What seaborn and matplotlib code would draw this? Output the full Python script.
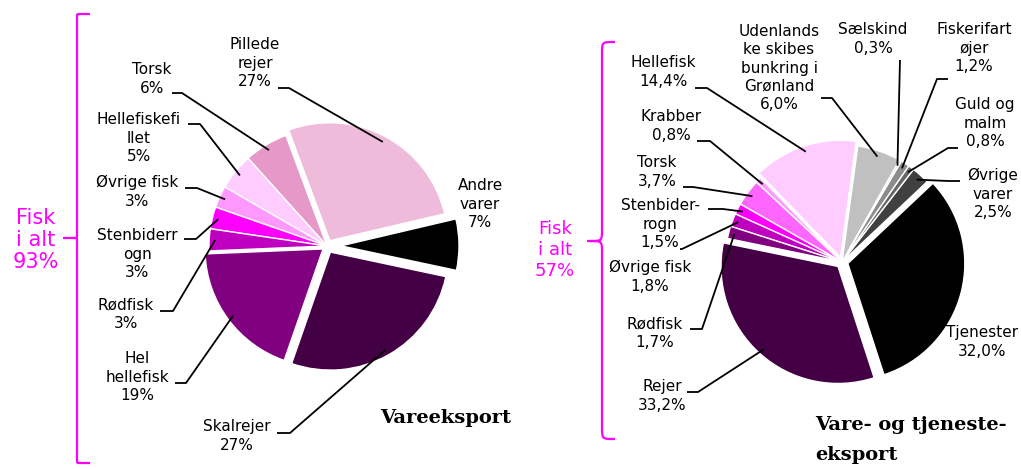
import matplotlib
matplotlib.use("Agg")
import matplotlib.pyplot as plt
from matplotlib.path import Path
from matplotlib.patches import PathPatch
import numpy as np
import seaborn as sns

# ---- data: Vareeksport (counter-clockwise, starting at "Andre varer")
vare_names = ["Andre\nvarer", "Pillede\nrejer", "Torsk", "Hellefiskefi\nllet", "Øvrige fisk",
              "Stenbiderr\nogn", "Rødfisk", "Hel\nhellefisk", "Skalrejer"]
vare_values = [7, 27, 6, 5, 3, 3, 3, 19, 27]
vare_colors = ["#000000", "#EEBBDB", "#E699C8", "#FFCCFF", "#FF99FF",
               "#FF00FF", "#C000C0", "#800080", "#440044"]

# ---- data: Vare- og tjenesteeksport (counter-clockwise, starting at "Tjenester")
total_names = ["Tjenester", "Øvrige\nvarer", "Guld og\nmalm", "Fiskerifart\nøjer", "Sælskind",
               "Udenlands\nke skibes\nbunkring i\nGrønland", "Hellefisk", "Krabber", "Torsk",
               "Stenbider-\nrogn", "Øvrige fisk", "Rødfisk", "Rejer"]
total_values = [32.0, 2.5, 0.8, 1.2, 0.3, 6.0, 14.4, 0.8, 3.7, 1.5, 1.8, 1.7, 33.2]
total_colors = ["#000000", "#404040", "#666666", "#8C8C8C", "#D9D9D9", "#C0C0C0", "#FFCCFF",
                "#FF99FF", "#FF66FF", "#FF00FF", "#C000C0", "#800080", "#440044"]

fisk_vare = 93
fisk_total = 57

# ---- layout (pixel coordinates, y from top); explode is in pixels here
W, H = 1021, 469
vare_explode = [14, 6, 0, 0, 0, 0, 0, 5, 7]
vare_text_pos = [(480, 204), (255, 63), (152, 79), (139, 138), (137, 192),
                 (137, 254), (126, 314), (137, 377), (237, 436)]
vare_leaders = [None, (278, 289, 88), (172, 182, 93), (188, 200, 124), (185, 197, 188),
                (184, 196, 239), (160, 173, 311), (175, 186, 383), (277, 290, 433)]

total_explode = [6, 0, 0, 0, 0, 0, 5, 0, 0, 0, 0, 0, 6]
total_text_pos = [(982, 342), (993, 194), (985, 123), (974, 48), (873, 39), (779, 68),
                  (663, 72), (671, 126), (657, 172), (660, 224), (650, 277), (655, 333), (662, 396)]
total_leaders = [None, (960, 948, 181), (958, 948, 148), (948, 937, 79), (900, 900, 60),
                 (821, 832, 98), (695, 707, 88), (697, 710, 141), (683, 693, 187),
                 (708, 723, 209), (680, 682, 249), (690, 702, 329), (687, 698, 392)]

MAGENTA = "#FF00FF"

sns.set_theme(style="white")
plt.rcParams["font.family"] = ["DejaVu Sans"]

fig = plt.figure(figsize=(W / 100, H / 100), dpi=100)
ax = fig.add_axes([0, 0, 1, 1])


def draw_pie(values, names, fmt, colors, explode, center, radius, start, text_pos, leaders):
    wedges, _ = ax.pie(values, colors=colors, explode=explode, startangle=start,
                       counterclock=True, center=(center[0], H - center[1]), radius=radius,
                       wedgeprops=dict(edgecolor="white", linewidth=1.0), frame=True)
    for w, name, v, (tx, ty), ld in zip(wedges, names, values, text_pos, leaders):
        ax.text(tx, H - ty, name + "\n" + fmt(v), ha="center", va="center",
                fontsize=11, linespacing=1.28, color="black")
        if ld is None:
            continue
        x0, x1, yl = ld
        mid = np.deg2rad((w.theta1 + w.theta2) / 2)
        cx, cy = w.center
        px = cx + 0.95 * w.r * np.cos(mid)
        py = cy + 0.95 * w.r * np.sin(mid)
        ax.plot([x0, x1, px], [H - yl, H - yl, py], color="black", lw=1.3,
                solid_capstyle="butt")


def brace(x, y_top, y_bot, y_mid, x_end, x_tip, r):
    pts = [(x_end, y_top), (x + r, y_top), (x, y_top), (x, y_top), (x, y_top + r),
           (x, y_mid - r), (x, y_mid), (x, y_mid), (x - r, y_mid), (x_tip, y_mid),
           (x - r, y_mid), (x, y_mid), (x, y_mid), (x, y_mid + r),
           (x, y_bot - r), (x, y_bot), (x, y_bot), (x + r, y_bot), (x_end, y_bot)]
    codes = [Path.MOVETO, Path.LINETO, Path.CURVE4, Path.CURVE4, Path.CURVE4,
             Path.LINETO, Path.CURVE4, Path.CURVE4, Path.CURVE4, Path.LINETO,
             Path.MOVETO, Path.CURVE4, Path.CURVE4, Path.CURVE4,
             Path.LINETO, Path.CURVE4, Path.CURVE4, Path.CURVE4, Path.LINETO]
    pts = [(px, H - py) for px, py in pts]
    ax.add_patch(PathPatch(Path(pts, codes), facecolor="none", edgecolor=MAGENTA, lw=1.6))


draw_pie(vare_values, vare_names, lambda v: f"{v:.0f}%", vare_colors, vare_explode,
         (327, 246), 118, -12, vare_text_pos, vare_leaders)
draw_pie(total_values, total_names, lambda v: f"{v:.1f}%".replace(".", ","), total_colors,
         total_explode, (842, 262), 117, -72, total_text_pos, total_leaders)

brace(77, 14, 463, 238, 90, 63, 3)
brace(602, 42, 439, 241, 615, 587, 12)

ax.text(36, H - 240, f"Fisk\ni alt\n{fisk_vare}%", ha="center", va="center",
        fontsize=15, color=MAGENTA, linespacing=1.15)
ax.text(555, H - 250, f"Fisk\ni alt\n{fisk_total}%", ha="center", va="center",
        fontsize=13, color=MAGENTA, linespacing=1.2)

ax.text(380, H - 418, "Vareeksport", ha="left", va="center", fontsize=14,
        fontweight="bold", family="DejaVu Serif", color="black")
ax.text(815, H - 425, "Vare- og tjeneste-", ha="left", va="center", fontsize=14,
        fontweight="bold", family="DejaVu Serif", color="black")
ax.text(815, H - 455, "eksport", ha="left", va="center", fontsize=14,
        fontweight="bold", family="DejaVu Serif", color="black")

ax.set_aspect("auto")
ax.set_xlim(0, W)
ax.set_ylim(0, H)
ax.axis("off")

fig.savefig("out.png", dpi=100, facecolor="white")
plt.close(fig)
